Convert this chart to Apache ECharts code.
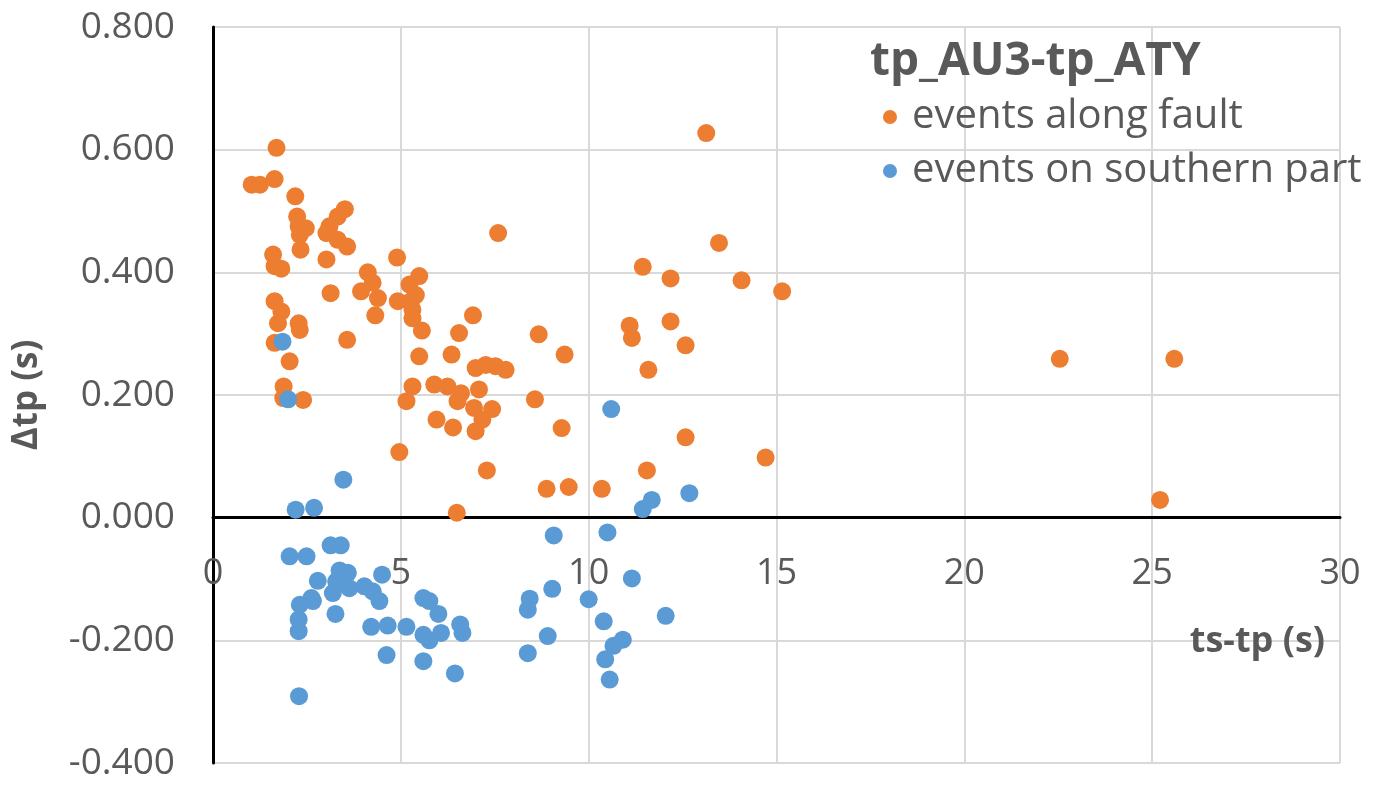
<!DOCTYPE html>
<html>
<head>
<meta charset="utf-8">
<script src="https://cdn.jsdelivr.net/npm/echarts@6/dist/echarts.min.js"></script>
<style>html,body{margin:0;padding:0;background:#fff}#chart{width:1383px;height:793px}</style>
</head>
<body>
<div id="chart"></div>
<script>
const seriesNames = ['events along fault', 'events on southern part'];
const legendTitle = 'tp_AU3-tp_ATY';
const xAxisName = 'ts-tp (s)';
const yAxisName = 'Δtp (s)';
const xTicks = [0, 5, 10, 15, 20, 25, 30];
const yTicks = [-0.4, -0.2, 0, 0.2, 0.4, 0.6, 0.8];

const faultPoints = [
[1.69,0.603],[1.03,0.543],[1.25,0.543],[1.64,0.552],[2.19,0.524],[2.24,0.491],[2.28,0.475],[2.47,0.472],[2.31,0.461],[2.33,0.437],
[3.51,0.503],[3.32,0.491],[3.10,0.475],[3.02,0.464],[3.32,0.453],[3.57,0.442],[3.02,0.421],[7.59,0.464],[1.60,0.429],[1.64,0.410],
[1.82,0.406],[4.90,0.424],[4.12,0.400],[4.25,0.383],[3.94,0.369],[4.39,0.358],[3.13,0.366],[4.32,0.330],[5.49,0.394],[5.23,0.380],
[5.40,0.363],[4.92,0.353],[5.27,0.353],[5.31,0.339],[5.31,0.325],[5.56,0.305],[6.92,0.330],[6.55,0.301],[1.64,0.353],[1.82,0.336],
[1.73,0.317],[2.28,0.317],[3.57,0.290],[2.31,0.306],[1.64,0.285],[2.04,0.255],[5.49,0.263],[6.35,0.266],[6.99,0.244],[7.26,0.249],
[7.52,0.247],[7.79,0.241],[1.88,0.214],[1.87,0.195],[2.40,0.192],[5.31,0.214],[5.15,0.190],[5.89,0.217],[6.24,0.214],[6.60,0.203],
[6.51,0.190],[7.08,0.209],[6.95,0.179],[7.43,0.177],[7.17,0.160],[6.99,0.141],[5.95,0.160],[6.39,0.147],[4.96,0.107],[7.29,0.077],
[6.49,0.008],[13.13,0.627],[13.47,0.448],[11.44,0.409],[12.18,0.390],[14.07,0.387],[15.15,0.369],[11.09,0.313],[11.15,0.293],[12.18,0.320],
[12.58,0.281],[11.59,0.241],[8.67,0.299],[9.36,0.266],[8.57,0.193],[9.28,0.146],[12.58,0.131],[14.71,0.098],[11.55,0.077],[8.88,0.047],
[9.47,0.050],[10.35,0.047],[22.54,0.259],[25.59,0.259],[25.21,0.029]
];

const southernPoints = [
[1.85,0.287],[2.00,0.193],[3.47,0.062],[2.20,0.013],[2.69,0.016],[10.60,0.177],[12.68,0.040],[11.68,0.029],[11.44,0.014],
[2.04,-0.063],[2.49,-0.063],[3.13,-0.045],[3.40,-0.045],[2.79,-0.103],[3.37,-0.086],[3.59,-0.090],[3.28,-0.104],[3.19,-0.123],
[3.63,-0.115],[2.62,-0.131],[2.31,-0.142],[2.66,-0.136],[2.28,-0.166],[2.28,-0.185],[3.26,-0.157],[4.03,-0.112],[4.25,-0.120],
[4.43,-0.136],[4.50,-0.093],[4.21,-0.178],[4.65,-0.176],[5.15,-0.178],[5.60,-0.131],[5.76,-0.136],[6.00,-0.157],[6.58,-0.174],
[6.64,-0.188],[6.07,-0.188],[5.60,-0.191],[5.76,-0.200],[4.62,-0.224],[5.60,-0.234],[6.44,-0.254],[2.29,-0.291],[9.07,-0.029],
[10.50,-0.024],[11.15,-0.099],[9.03,-0.116],[8.43,-0.132],[8.38,-0.150],[10.0,-0.133],[10.40,-0.169],[12.05,-0.160],[8.91,-0.193],
[8.38,-0.221],[10.91,-0.199],[10.66,-0.209],[10.44,-0.231],[10.56,-0.264]
];

const FONT = '"Open Sans", "Noto Sans", sans-serif';
const GREY = '#595959';
const GRID = { left: 213, right: 43, top: 27, bottom: 30 };
const CH = 793;
const plotH = CH - GRID.top - GRID.bottom;
const yMin = yTicks[0], yMax = yTicks[yTicks.length - 1];
// move the x axis (line + labels) up to the y = 0 level, like the original
const xAxisOffset = -plotH * (0 - yMin) / (yMax - yMin);

const chart = echarts.init(document.getElementById('chart'));
chart.setOption({
  animation: false,
  backgroundColor: '#ffffff',
  title: {
    text: legendTitle,
    left: 865, top: 34,
    textStyle: { fontFamily: FONT, fontSize: 46, fontWeight: 'bold', color: GREY }
  },
  legend: {
    orient: 'vertical',
    left: 878, top: 92,
    itemGap: 14,
    icon: 'circle',
    itemWidth: 14, itemHeight: 14,
    textStyle: { fontFamily: FONT, fontSize: 40, color: GREY, padding: [0, 0, 0, 10] },
    data: seriesNames
  },
  grid: Object.assign({ containLabel: false, outerBoundsMode: 'none' }, GRID),
  xAxis: {
    type: 'value',
    min: xTicks[0], max: xTicks[xTicks.length - 1], interval: 5,
    offset: xAxisOffset,
    name: xAxisName,
    nameLocation: 'end',
    nameGap: 0,
    nameTextStyle: { fontFamily: FONT, fontSize: 36, fontWeight: 'bold', color: GREY, align: 'right', verticalAlign: 'top', padding: [106, 15, 0, 0] },
    axisLine: { onZero: false, lineStyle: { color: '#000', width: 3 } },
    axisTick: { show: false },
    axisLabel: { fontFamily: FONT, fontSize: 36, color: GREY, margin: 38, showMinLabel: true, showMaxLabel: true },
    splitLine: { show: true, lineStyle: { color: '#d9d9d9', width: 2 } }
  },
  yAxis: {
    type: 'value',
    min: yMin, max: yMax, interval: 0.2,
    name: yAxisName,
    nameLocation: 'middle',
    nameRotate: 90,
    nameGap: 168,
    nameTextStyle: { fontFamily: FONT, fontSize: 35, fontWeight: 'bold', color: GREY },
    axisLine: { show: true, onZero: false, lineStyle: { color: '#000', width: 3 } },
    axisTick: { show: false },
    axisLabel: { fontFamily: FONT, fontSize: 37, color: GREY, margin: 38, formatter: v => v.toFixed(3) },
    splitLine: { show: true, lineStyle: { color: '#d9d9d9', width: 2 } }
  },
  series: [
    { name: seriesNames[0], type: 'scatter', data: faultPoints, symbolSize: 18, itemStyle: { color: '#ED7D31', opacity: 1 } },
    { name: seriesNames[1], type: 'scatter', data: southernPoints, symbolSize: 18, itemStyle: { color: '#5B9BD5', opacity: 1 } }
  ]
});
</script>
</body>
</html>
